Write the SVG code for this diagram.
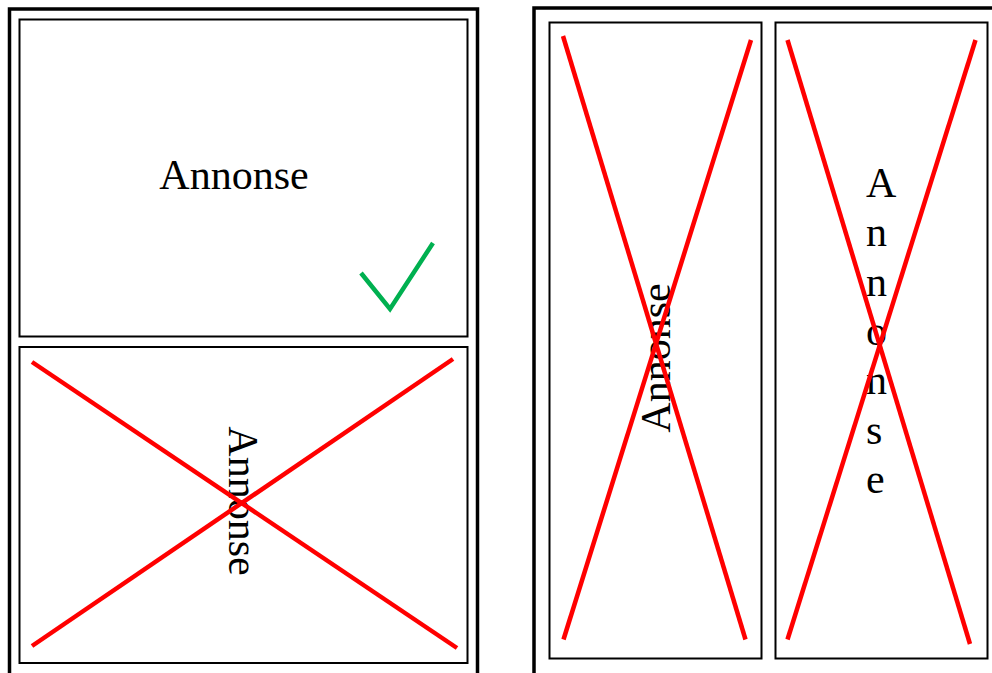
<svg xmlns="http://www.w3.org/2000/svg" width="992" height="673" viewBox="0 0 992 673">
<style>
.outer{fill:none;stroke:#000;stroke-width:3.5}
.box{fill:none;stroke:#000;stroke-width:2}
.cross{stroke:#ff0000;stroke-width:4.5;fill:none}
.ok{stroke:#00b050;stroke-width:4.5;fill:none}
.lbl{font-family:"Liberation Serif","Times New Roman",serif;font-size:42px;fill:#000}
</style>
<rect width="992" height="673" fill="#fff"/>
<g id="panel-left">
<rect class="outer" x="9.5" y="9" width="468" height="680"/>
</g>
<g id="ad-top">
<rect class="box" x="19.5" y="19.5" width="448" height="317"/>
<text class="lbl" x="234" y="189" text-anchor="middle">Annonse</text>
<polyline class="ok" points="361,273 390,309 433,243"/>
</g>
<g id="ad-bottom">
<rect class="box" x="19.5" y="347" width="448" height="316"/>
<text class="lbl" transform="translate(229,501) rotate(90)" text-anchor="middle">Annonse</text>
<line class="cross" x1="32" y1="362" x2="457" y2="648"/>
<line class="cross" x1="32" y1="646" x2="453" y2="359"/>
</g>
<g id="panel-right">
<rect class="outer" x="534" y="8" width="480" height="680"/>
</g>
<g id="ad-right-1">
<rect class="box" x="549.5" y="22.5" width="212" height="636"/>
<text class="lbl" transform="translate(670,358) rotate(-90)" text-anchor="middle">Annonse</text>
<line class="cross" x1="563" y1="36" x2="745.5" y2="639.5"/>
<line class="cross" x1="751" y1="40" x2="563.5" y2="639.5"/>
</g>
<g id="ad-right-2">
<rect class="box" x="775.5" y="22.5" width="212" height="636"/>
<text class="lbl"><tspan x="866" y="197">A</tspan><tspan x="866" y="246">n</tspan><tspan x="866" y="295.5">n</tspan><tspan x="866" y="345">o</tspan><tspan x="866" y="394">n</tspan><tspan x="866" y="443.5">s</tspan><tspan x="866" y="493">e</tspan></text>
<line class="cross" x1="787.5" y1="40" x2="970" y2="644"/>
<line class="cross" x1="975.5" y1="40" x2="787.5" y2="639.5"/>
</g>
</svg>
